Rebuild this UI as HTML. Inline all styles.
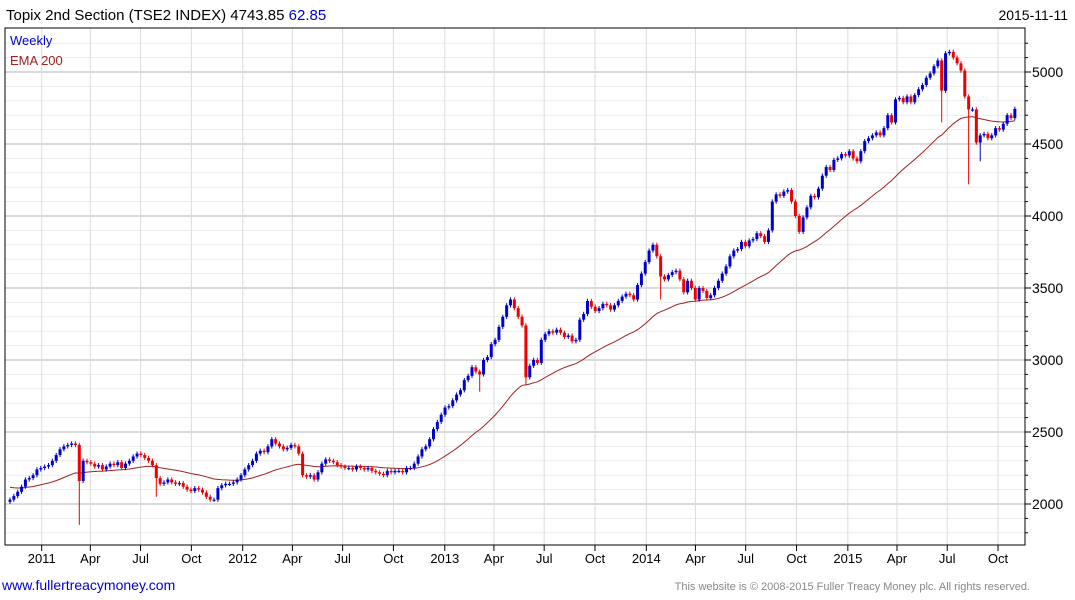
<!DOCTYPE html>
<html><head><meta charset="utf-8"><style>
body{margin:0;background:#fff;font-family:"Liberation Sans",sans-serif;}
svg{display:block}
</style></head><body>
<svg id="chart" width="1075" height="600" xmlns="http://www.w3.org/2000/svg" font-family="Liberation Sans, sans-serif">
<text x="6" y="20" font-size="15" fill="#000">Topix 2nd Section (TSE2 INDEX) 4743.85 <tspan fill="#0000cc">62.85</tspan></text>
<text x="1068" y="20" font-size="14" text-anchor="end" fill="#000">2015-11-11</text>
<g id="grid"></g><g id="ema"></g><g id="candles"></g><g id="axes"></g>
<rect x="5" y="28" width="1020" height="517" fill="none" stroke="#000" stroke-width="1"/>
<text x="10" y="45" font-size="13" fill="#0000cc">Weekly</text>
<text x="10" y="65" font-size="13" fill="#a02020">EMA 200</text>
<text x="2" y="590" font-size="14" fill="#0000cc">www.fullertreacymoney.com</text>
<text x="1030" y="590" font-size="11" text-anchor="end" fill="#888">This website is © 2008-2015 Fuller Treacy Money plc. All rights reserved.</text>
</svg>
<script>
const closes=[2030,2055,2085,2120,2170,2180,2200,2240,2250,2260,
2270,2300,2340,2380,2400,2410,2420,2410,2160,2300,
2290,2280,2260,2270,2240,2260,2280,2270,2290,2250,
2280,2300,2330,2350,2340,2320,2300,2270,2180,2140,
2150,2170,2150,2140,2145,2120,2100,2090,2110,2100,
2080,2050,2030,2030,2110,2130,2140,2140,2150,2170,
2200,2240,2270,2300,2350,2370,2360,2400,2450,2420,
2400,2380,2390,2410,2400,2350,2200,2190,2200,2170,
2220,2280,2310,2300,2290,2270,2260,2250,2250,2240,
2260,2250,2240,2250,2230,2220,2210,2200,2230,2220,
2230,2230,2220,2250,2250,2280,2330,2380,2400,2450,
2520,2570,2620,2670,2680,2720,2760,2790,2860,2890,
2950,2920,2900,3000,3020,3110,3140,3230,3300,3380,
3420,3360,3300,3240,2880,2960,3000,2980,3140,3180,
3200,3190,3210,3190,3160,3170,3130,3140,3280,3320,
3410,3370,3340,3360,3390,3380,3350,3380,3410,3440,
3460,3450,3420,3520,3600,3680,3760,3800,3720,3580,
3560,3590,3610,3620,3560,3470,3550,3500,3420,3500,
3480,3430,3450,3500,3550,3600,3650,3720,3760,3770,
3820,3790,3830,3840,3880,3860,3820,3900,4100,4150,
4140,4170,4180,4100,4000,3890,3990,4060,4140,4130,
4190,4280,4340,4320,4390,4400,4430,4420,4450,4400,
4380,4450,4520,4540,4560,4580,4560,4610,4700,4650,
4810,4820,4790,4830,4790,4840,4880,4910,4960,4990,
5040,5080,4870,5130,5140,5100,5060,5010,4830,4740,
4740,4510,4560,4570,4540,4560,4610,4600,4640,4700,
4680,4744];
const wickIdx=[18,38,122,134,169,242,249,252];
const wickLow=[1855,2050,2780,2830,3420,4650,4220,4380];
const yTicks=[2000,2500,3000,3500,4000,4500,5000];
const monthLabels=["2011","Apr","Jul","Oct","2012","Apr","Jul","Oct","2013","Apr","Jul","Oct","2014","Apr","Jul","Oct","2015","Apr","Jul","Oct"];
const monthDates=["2011-01-03","2011-04-01","2011-07-01","2011-10-01","2012-01-02","2012-04-01","2012-07-01","2012-10-01","2013-01-02","2013-04-01","2013-07-01","2013-10-01","2014-01-02","2014-04-01","2014-07-01","2014-10-01","2015-01-02","2015-04-01","2015-07-01","2015-10-01"];
const emaSeed=2120, emaPeriod=40;

const NS="http://www.w3.org/2000/svg";
const t0=Date.parse("2010-11-12");
const xW=i=>10+i*3.85;
const xD=d=>13+(Date.parse(d)-t0)/864e5/7*3.865;
const yV=v=>72+(5000-v)*0.144;
function mk(tag,attrs,parent){const e=document.createElementNS(NS,tag);for(const k in attrs)e.setAttribute(k,attrs[k]);parent.appendChild(e);return e;}
const grid=document.getElementById('grid'),axes=document.getElementById('axes');
for(let v=1800;v<=5200;v+=100){const y=yV(v);if(y<28||y>545)continue;
 const major=v%500===0;
 const l=mk('line',{x1:5,x2:1025,y1:y,y2:y,stroke:major?'#c4c4c4':'#ececec','stroke-width':major?1.2:1},grid);
 
 
 const t=mk('line',{x1:1025,x2:major?1031:1028,y1:y,y2:y,stroke:'#000'},axes);
 
 
}
yTicks.forEach(v=>{const t=mk('text',{x:1032,y:yV(v)+5,'font-size':14,fill:'#000'},axes);t.textContent=v;
 
 });
monthDates.forEach((d,k)=>{const x=xD(d);
 const g=mk('line',{x1:x,x2:x,y1:28,y2:545,stroke:'#dcdcdc'},grid);
 
 
 const tk=mk('line',{x1:x,x2:x,y1:545,y2:551,stroke:'#000'},axes);
 
 
 const t=mk('text',{x:x,y:563,'font-size':13,'text-anchor':'middle',fill:'#000'},axes);t.textContent=monthLabels[k];
 
 
});
let e=emaSeed,a=2/(emaPeriod+1),pts=[];
closes.forEach((c,i)=>{e=e+a*(c-e);pts.push(xW(i).toFixed(1)+','+yV(e).toFixed(1));});
const pl=mk('polyline',{points:pts.join(' '),fill:'none',stroke:'#a02020','stroke-width':1},document.getElementById('ema'));


const cg=document.getElementById('candles');
closes.forEach((c,i)=>{
 const o=i===0?2015:closes[i-1];
 const col=c>=o?'#0000cc':'#ee0000';
 let hi=Math.max(o,c)+15,lo=Math.min(o,c)-15;
 const w=wickIdx.indexOf(i);if(w>=0)lo=wickLow[w];
 const x=xW(i);
 const g=mk('g',{},cg);
 
 
 mk('line',{x1:x,x2:x,y1:yV(hi),y2:yV(lo),stroke:col,'stroke-width':1},g);
 const top=yV(Math.max(o,c)),h=Math.max(1.2,yV(Math.min(o,c))-top);
 mk('rect',{x:x-1.5,y:top,width:3,height:h,fill:col},g);
});
</script>
</body></html>
